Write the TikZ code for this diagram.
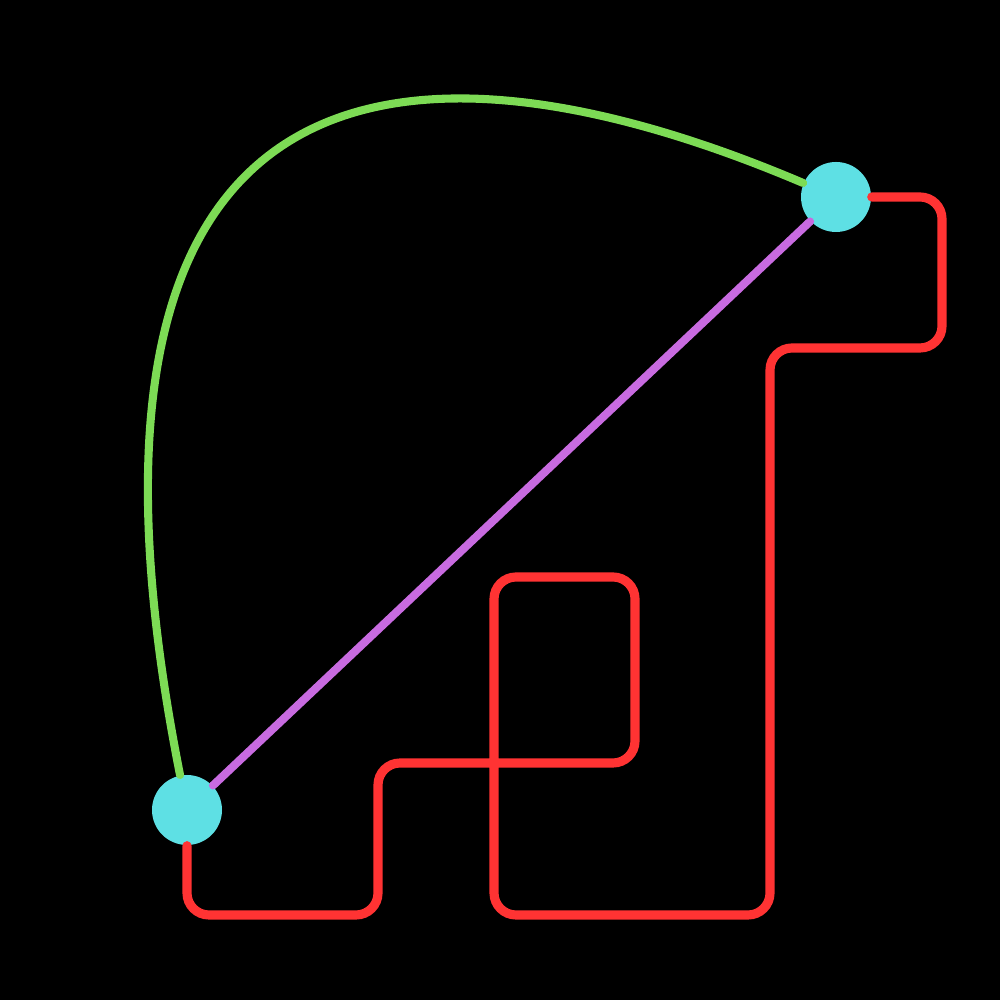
\documentclass[tikz,border=0pt]{standalone}
\definecolor{netCyan}{RGB}{94,224,228}
\definecolor{netGreen}{RGB}{125,219,85}
\definecolor{netPurple}{RGB}{200,107,224}
\definecolor{netRed}{RGB}{255,51,51}
\usepackage{tikz}
\usetikzlibrary{calc}

\begin{document}
\begin{tikzpicture}[
  vertex/.style={circle, fill=netCyan, minimum size=0.7cm, inner sep=0pt},
  wire/.style={line width=2.3pt, line cap=round}
]
  \fill[black] (0,0) rectangle (10,10);

  \node[vertex] (a) at (1.87,1.90) {};
  \node[vertex] (b) at (8.36,8.03) {};

  \draw[wire, netGreen] (a) .. controls (0.32,9.70) and (4.22,9.79) .. (b);
  \draw[wire, netPurple] (a) -- (b);
  \draw[wire, netRed, line width=2.6pt, rounded corners=0.22cm]
    (a.south) -- (1.87,0.85) -- (3.78,0.85) -- (3.78,2.37) -- (6.35,2.37)
    -- (6.35,4.23) -- (4.94,4.23) -- (4.94,0.85) -- (7.70,0.85)
    -- (7.70,6.52) -- (9.42,6.52) -- (9.42,8.03) -- (b.east);
\end{tikzpicture}
\end{document}
